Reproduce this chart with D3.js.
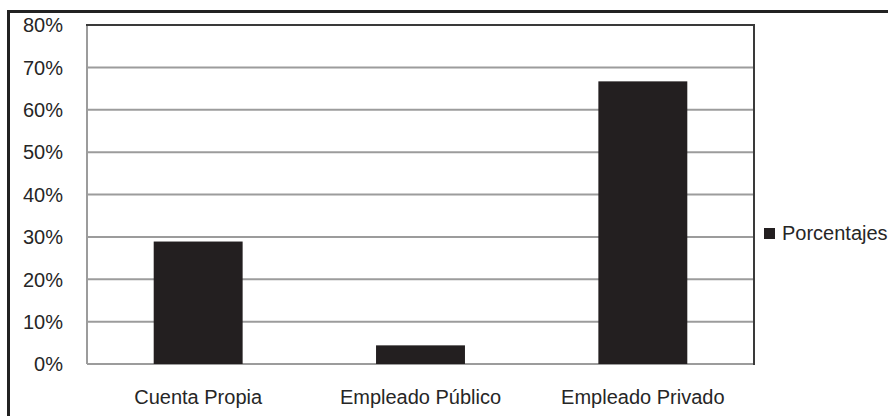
<!DOCTYPE html>
<html><head><meta charset="utf-8">
<script src="https://cdn.jsdelivr.net/npm/d3@7"></script>
<style>body{margin:0;background:#fff}svg{display:block}text{font-family:"Liberation Sans",Arial,sans-serif;fill:#262626}</style>
</head><body>
<svg id="c" width="888" height="416"></svg>
<script>
const categories = ["Cuenta Propia", "Empleado Público", "Empleado Privado"];
const values = [28.9, 4.4, 66.7];
const yTicks = [0, 10, 20, 30, 40, 50, 60, 70, 80];
const seriesName = "Porcentajes";

const svg = d3.select("#c");
const m = {left: 87, right: 754, top: 25, bottom: 364};

// outer frame
svg.append("rect").attr("x", 8.5).attr("y", 11.5).attr("width", 900).attr("height", 440)
  .attr("fill", "none").attr("stroke", "#222").attr("stroke-width", 3);

const x = d3.scaleBand().domain(categories).range([m.left, m.right]).paddingInner(0.6).paddingOuter(0.3);
const y = d3.scaleLinear().domain([0, 80]).range([m.bottom, m.top]);

// gridlines
svg.append("g").selectAll("line").data(yTicks).join("line")
  .attr("x1", m.left).attr("x2", m.right)
  .attr("y1", d => y(d)).attr("y2", d => y(d))
  .attr("stroke", "#9c9c9c").attr("stroke-width", 2);

// plot border: left/bottom gray, top/right dark
svg.append("line").attr("x1", m.left).attr("x2", m.left).attr("y1", m.top).attr("y2", m.bottom)
  .attr("stroke", "#9c9c9c").attr("stroke-width", 2);
svg.append("line").attr("x1", m.left - 1).attr("x2", m.right + 1).attr("y1", m.top).attr("y2", m.top)
  .attr("stroke", "#3a3a3a").attr("stroke-width", 2);
svg.append("line").attr("x1", m.right).attr("x2", m.right).attr("y1", m.top).attr("y2", m.bottom + 1)
  .attr("stroke", "#3a3a3a").attr("stroke-width", 2);

// bars
svg.append("g").selectAll("rect").data(values).join("rect")
  .attr("x", (d, i) => x(categories[i]))
  .attr("width", x.bandwidth())
  .attr("y", d => y(d))
  .attr("height", d => y(0) - y(d))
  .attr("fill", "#231f20");

// y axis labels
const yAxis = d3.axisLeft(y).tickValues(yTicks).tickFormat(d => d + "%").tickSize(0).tickPadding(0);
const ga = svg.append("g").attr("transform", `translate(${63},0)`).call(yAxis);
ga.select(".domain").remove();
ga.selectAll("text").attr("font-size", 20).attr("font-family", "Liberation Sans, Arial, sans-serif").attr("fill", "#262626").attr("dy", "0.34em");

// x axis labels
const xAxis = d3.axisBottom(x).tickSize(0).tickPadding(0);
const gx = svg.append("g").attr("transform", `translate(0,${m.bottom})`).call(xAxis);
gx.select(".domain").remove();
gx.selectAll("text").attr("font-size", 20).attr("font-family", "Liberation Sans, Arial, sans-serif").attr("fill", "#262626").attr("dy", null).attr("y", 40);

// legend
svg.append("rect").attr("x", 764).attr("y", 228).attr("width", 11).attr("height", 11).attr("fill", "#231f20");
svg.append("text").attr("x", 782).attr("y", 240).attr("font-size", 20).text(seriesName);
</script>
</body></html>
